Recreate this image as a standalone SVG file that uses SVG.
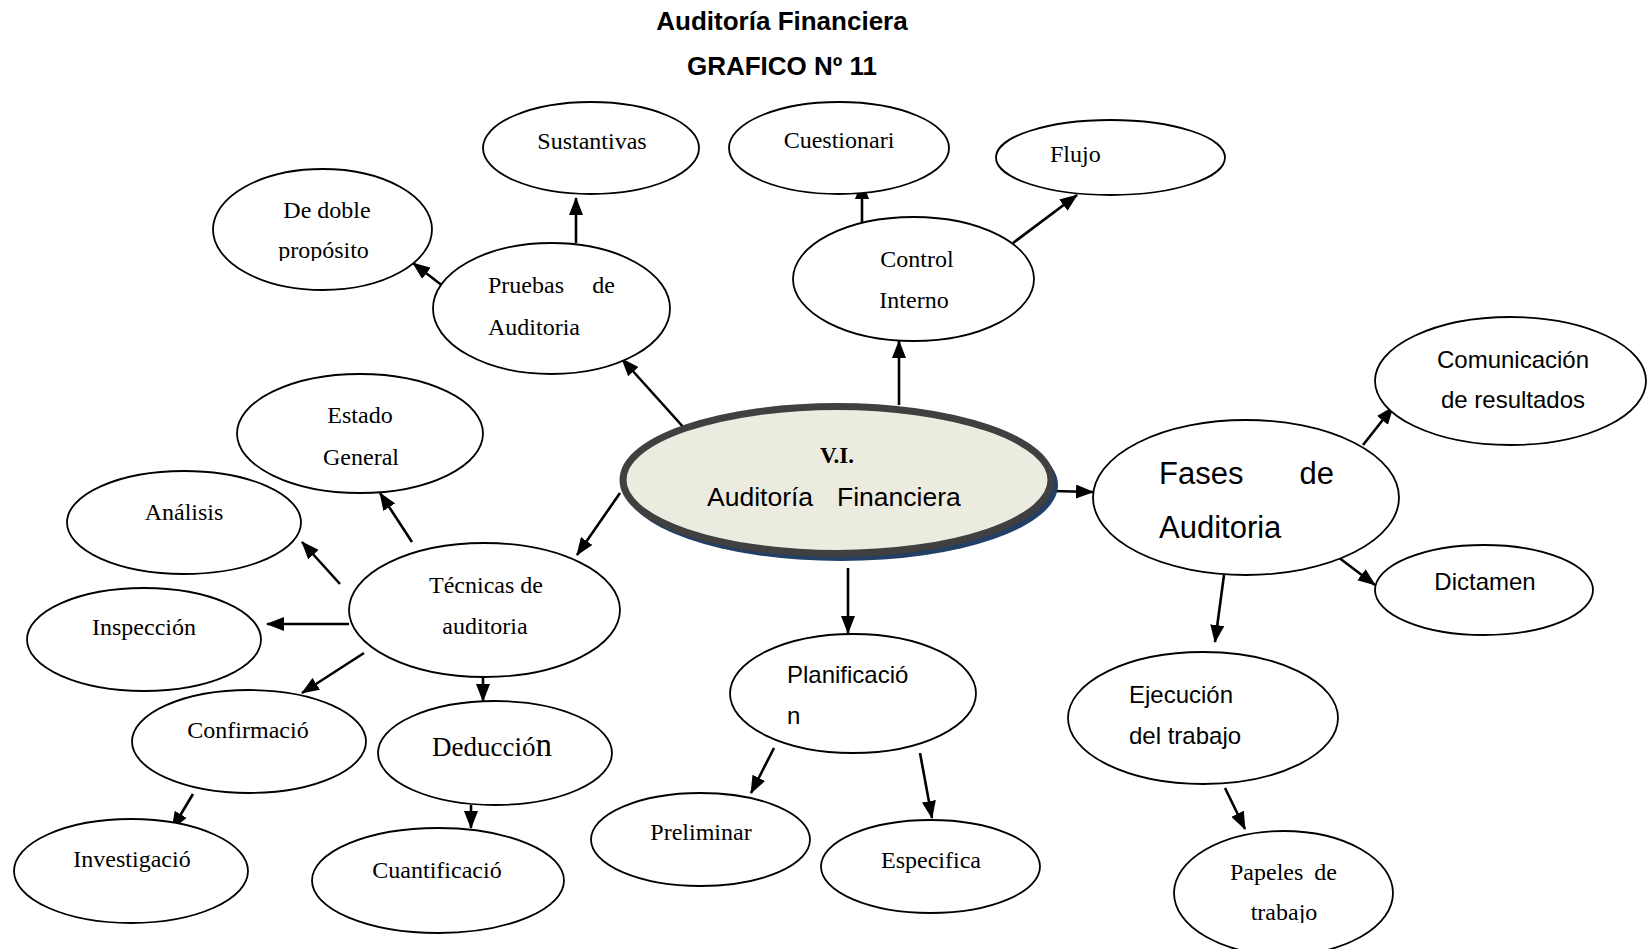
<svg xmlns="http://www.w3.org/2000/svg" width="1648" height="949" viewBox="0 0 1648 949">
  <style>
    .node { fill: #ffffff; stroke: #000000; stroke-width: 1.8; }
    .serif { font-family: "Liberation Serif", "Times New Roman", serif; font-size: 24px; fill: #000; }
    .sans { font-family: "Liberation Sans", Arial, sans-serif; font-size: 24px; fill: #000; }
    .big { font-size: 31px; }
    .title { font-family: "Liberation Sans", Arial, sans-serif; font-size: 26px; font-weight: bold; fill: #000; }
    .mid { text-anchor: middle; }
    .end { text-anchor: end; }
    .edge { stroke: #000; stroke-width: 2.6; fill: none; marker-end: url(#arrow); }
  </style>
  <defs>
    <marker id="arrow" markerUnits="userSpaceOnUse" markerWidth="18" markerHeight="14" viewBox="0 0 18 14" refX="17" refY="7" orient="auto">
      <path d="M0,0 L18,7 L0,14 z" fill="#000"/>
    </marker>
    <clipPath id="clipDoble"><rect x="200" y="160" width="240" height="101"/></clipPath>
    <clipPath id="clipPapeles"><rect x="1170" y="825" width="230" height="98"/></clipPath>
  </defs>

  <rect width="1648" height="949" fill="#ffffff"/>

  <!-- Heading -->
  <g id="heading">
    <text class="title mid" x="782" y="30">Auditoría Financiera</text>
    <text class="title mid" x="782" y="75">GRAFICO Nº 11</text>
  </g>

  <!-- Connectors -->
  <g id="connectors">
    <line class="edge" x1="685" y1="429" x2="622" y2="359"/>
    <line class="edge" x1="576" y1="243" x2="576" y2="198"/>
    <line class="edge" x1="448" y1="290" x2="413" y2="263"/>
    <line class="edge" x1="899" y1="405" x2="899" y2="341"/>
    <line class="edge" x1="862" y1="230" x2="862" y2="182"/>
    <line class="edge" x1="1013" y1="243" x2="1077" y2="195"/>
    <line class="edge" x1="1052" y1="491" x2="1093" y2="492"/>
    <line class="edge" x1="1363" y1="445" x2="1393" y2="407"/>
    <line class="edge" x1="1338" y1="557" x2="1375" y2="585"/>
    <line class="edge" x1="1224" y1="575" x2="1215" y2="642"/>
    <line class="edge" x1="1225" y1="788" x2="1245" y2="829"/>
    <line class="edge" x1="848" y1="568" x2="848" y2="633"/>
    <line class="edge" x1="774" y1="748" x2="751" y2="793"/>
    <line class="edge" x1="920" y1="753" x2="932" y2="818"/>
    <line class="edge" x1="620" y1="493" x2="577" y2="555"/>
    <line class="edge" x1="412" y1="542" x2="380" y2="493"/>
    <line class="edge" x1="340" y1="584" x2="302" y2="542"/>
    <line class="edge" x1="349" y1="624" x2="267" y2="624"/>
    <line class="edge" x1="364" y1="653" x2="302" y2="693"/>
    <line class="edge" x1="483" y1="677" x2="483" y2="701"/>
    <line class="edge" x1="471" y1="805" x2="471" y2="828"/>
    <line class="edge" x1="193" y1="794" x2="172" y2="829"/>
  </g>

  <!-- Central node -->
  <g id="n-center">
    <ellipse cx="841" cy="485" rx="217" ry="76" fill="#243f66"/>
    <ellipse cx="837" cy="480" rx="214" ry="73.5" fill="#ecebe0" stroke="#404040" stroke-width="7"/>
    <text x="837" y="463" text-anchor="middle" style="font-family:'Liberation Serif','Times New Roman',serif;font-size:23px;font-weight:bold">V.I.</text>
    <text y="506" style="font-family:'Liberation Sans',Arial,sans-serif;font-size:26.5px"><tspan x="707">Auditoría</tspan><tspan x="837">Financiera</tspan></text>
  </g>

  <g id="n-pruebas">
    <ellipse class="node" cx="551.5" cy="308.5" rx="118.5" ry="65.5"/>
    <text class="serif" x="488" y="293">Pruebas</text>
    <text class="serif end" x="615" y="293">de</text>
    <text class="serif" x="488" y="335">Auditoria</text>
  </g>

  <g id="n-doble">
    <ellipse class="node" cx="322.5" cy="229.5" rx="109.5" ry="60.5"/>
    <g clip-path="url(#clipDoble)">
      <text class="serif mid" x="327" y="218">De doble</text>
      <text class="serif mid" x="323.5" y="258">propósito</text>
    </g>
  </g>

  <g id="n-sustantivas">
    <ellipse class="node" cx="591" cy="148" rx="108" ry="46"/>
    <text class="serif mid" x="592" y="149">Sustantivas</text>
  </g>

  <g id="n-control">
    <ellipse class="node" cx="913.5" cy="279" rx="120.5" ry="62"/>
    <text class="serif mid" x="917" y="267">Control</text>
    <text class="serif mid" x="914" y="308">Interno</text>
  </g>

  <g id="n-cuestionari">
    <ellipse class="node" cx="839" cy="148" rx="110" ry="46"/>
    <text class="serif mid" x="839" y="148">Cuestionari</text>
  </g>

  <g id="n-flujo">
    <ellipse class="node" cx="1110.5" cy="157.5" rx="114.5" ry="37.5"/>
    <text class="serif" x="1050" y="162">Flujo</text>
  </g>

  <g id="n-fases">
    <ellipse class="node" cx="1246" cy="497.5" rx="153" ry="77.5"/>
    <text class="sans big" x="1159" y="484">Fases</text>
    <text class="sans big end" x="1334" y="484">de</text>
    <text class="sans big" x="1159" y="538">Auditoria</text>
  </g>

  <g id="n-comunicacion">
    <ellipse class="node" cx="1510.5" cy="381" rx="135.5" ry="64"/>
    <text class="sans mid" x="1513" y="368">Comunicación</text>
    <text class="sans mid" x="1513" y="408">de resultados</text>
  </g>

  <g id="n-dictamen">
    <ellipse class="node" cx="1484" cy="590" rx="109" ry="45"/>
    <text class="sans mid" x="1485" y="590">Dictamen</text>
  </g>

  <g id="n-ejecucion">
    <ellipse class="node" cx="1203" cy="718" rx="135" ry="66"/>
    <text class="sans" x="1129" y="703">Ejecución</text>
    <text class="sans" x="1129" y="744">del trabajo</text>
  </g>

  <g id="n-papeles">
    <ellipse class="node" cx="1283.5" cy="893" rx="109.5" ry="62"/>
    <g clip-path="url(#clipPapeles)">
      <text class="serif" x="1230" y="880">Papeles</text>
      <text class="serif end" x="1337" y="880">de</text>
      <text class="serif mid" x="1284" y="920">trabajo</text>
    </g>
  </g>

  <g id="n-planificacion">
    <ellipse class="node" cx="853" cy="693.5" rx="123" ry="59.5"/>
    <text class="sans" x="787" y="683">Planificació</text>
    <text class="sans" x="787" y="724">n</text>
  </g>

  <g id="n-preliminar">
    <ellipse class="node" cx="700.5" cy="839.5" rx="109.5" ry="46.5"/>
    <text class="serif mid" x="701" y="840">Preliminar</text>
  </g>

  <g id="n-especifica">
    <ellipse class="node" cx="930.5" cy="866.5" rx="109.5" ry="46.5"/>
    <text class="serif mid" x="931" y="868">Especifica</text>
  </g>

  <g id="n-tecnicas">
    <ellipse class="node" cx="484.5" cy="610" rx="135.5" ry="67"/>
    <text class="serif mid" x="486" y="593">Técnicas de</text>
    <text class="serif mid" x="485" y="634">auditoria</text>
  </g>

  <g id="n-estado">
    <ellipse class="node" cx="360" cy="433.5" rx="123" ry="59.5"/>
    <text class="serif mid" x="360" y="423">Estado</text>
    <text class="serif mid" x="361" y="465">General</text>
  </g>

  <g id="n-analisis">
    <ellipse class="node" cx="184" cy="522.5" rx="117" ry="51.5"/>
    <text class="serif mid" x="184" y="520">Análisis</text>
  </g>

  <g id="n-inspeccion">
    <ellipse class="node" cx="144" cy="639.5" rx="117" ry="51.5"/>
    <text class="serif mid" x="144" y="635">Inspección</text>
  </g>

  <g id="n-confirmacion">
    <ellipse class="node" cx="249" cy="741.5" rx="117" ry="51.5"/>
    <text class="serif mid" x="248" y="738">Confirmació</text>
  </g>

  <g id="n-investigacion">
    <ellipse class="node" cx="131" cy="871" rx="117" ry="52"/>
    <text class="serif mid" x="132" y="867">Investigació</text>
  </g>

  <g id="n-deduccion">
    <ellipse class="node" cx="495" cy="753" rx="117" ry="52"/>
    <text class="serif mid" x="492" y="756" style="font-size:27px">Deducció<tspan style="font-size:33px">n</tspan></text>
  </g>

  <g id="n-cuantificacion">
    <ellipse class="node" cx="438" cy="880.5" rx="126" ry="52.5"/>
    <text class="serif mid" x="437" y="878">Cuantificació</text>
  </g>
</svg>
